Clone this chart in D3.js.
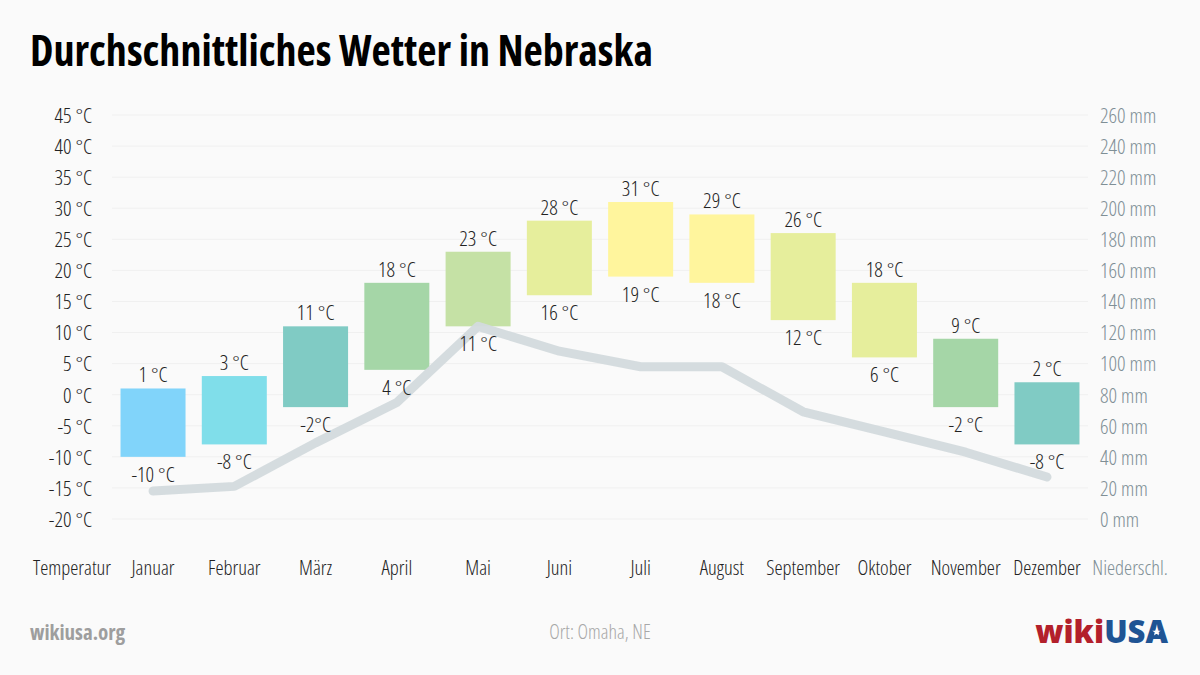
<!DOCTYPE html>
<html><head><meta charset="utf-8">
<script src="https://cdn.jsdelivr.net/npm/d3@7"></script>
<style>
body{margin:0;background:#fafafa}
text{font-family:'Open Sans';font-stretch:75%}
</style></head>
<body><svg id="c" width="1200" height="675"></svg>
<script>
const months=['Januar','Februar','März','April','Mai','Juni','Juli','August','September','Oktober','November','Dezember'];
const tempMax=[1,3,11,18,23,28,31,29,26,18,9,2];
const tempMin=[-10,-8,-2,4,11,16,19,18,12,6,-2,-8];
const maxLabels=['1 °C','3 °C','11 °C','18 °C','23 °C','28 °C','31 °C','29 °C','26 °C','18 °C','9 °C','2 °C'];
const minLabels=['-10 °C','-8 °C','-2°C','4 °C','11 °C','16 °C','19 °C','18 °C','12 °C','6 °C','-2 °C','-8 °C'];
const precip=[18,21,49,75,124,108,98,98,69,56,43,27];
const barColors=['#81d4fa','#80deea','#80cbc4','#a5d6a7','#c5e1a5','#e6ee9c','#fff59d','#fff59d','#e6ee9c','#e6ee9c','#a5d6a7','#80cbc4'];
const tempTicks=[-20,-15,-10,-5,0,5,10,15,20,25,30,35,40,45];
const precipTicks=[0,20,40,60,80,100,120,140,160,180,200,220,240,260];

const svg=d3.select('#c');
const x=d3.scaleBand().domain(months).range([112.4,1087.6]).paddingInner(0.2).paddingOuter(0.1);
const yT=d3.scaleLinear().domain([-20,45]).range([519,115]);
const yP=d3.scaleLinear().domain([0,260]).range([519,115]);
const FS='21px';

// title
svg.append('text').attr('x',30).attr('y',66).style('font-size','42px').style('font-weight',700).attr('fill','#000').text('Durchschnittliches Wetter in Nebraska');

// grid
svg.append('g').selectAll('line').data(tempTicks).join('line')
 .attr('x1',112).attr('x2',1088).attr('y1',d=>yT(d)).attr('y2',d=>yT(d))
 .attr('stroke','#f0f0f0').attr('stroke-width',1);

// left axis
const la=svg.append('g').attr('transform','translate(92,0)')
 .call(d3.axisLeft(yT).tickValues(tempTicks).tickSize(0).tickPadding(0).tickFormat(d=>d+' °C'));
la.select('.domain').remove();
la.selectAll('text').style('font-size',FS).style('font-weight',300).attr('fill','#222').attr('dy','0.35em');

// right axis
const ra=svg.append('g').attr('transform','translate(1100,0)')
 .call(d3.axisRight(yP).tickValues(precipTicks).tickSize(0).tickPadding(0).tickFormat(d=>d+' mm'));
ra.select('.domain').remove();
ra.selectAll('text').style('font-size',FS).style('font-weight',300).attr('fill','#7f8f96').attr('dy','0.35em');

// bars
svg.append('g').selectAll('rect').data(months).join('rect')
 .attr('x',d=>x(d)).attr('width',x.bandwidth())
 .attr('y',(d,i)=>yT(tempMax[i])).attr('height',(d,i)=>yT(tempMin[i])-yT(tempMax[i]))
 .attr('fill',(d,i)=>barColors[i]);

// precip line
svg.append('path').datum(precip)
 .attr('d',d3.line().x((d,i)=>x(months[i])+x.bandwidth()/2).y(d=>yP(d)))
 .attr('fill','none').attr('stroke','#d3dadd').attr('stroke-width',9)
 .attr('stroke-linecap','round').attr('stroke-linejoin','round').attr('opacity',0.95);

// value labels
const lbl=svg.append('g').style('font-size',FS).style('font-weight',300).attr('fill','#222').attr('text-anchor','middle');
lbl.selectAll('.mx').data(months).join('text').attr('class','mx')
 .attr('x',d=>x(d)+x.bandwidth()/2).attr('y',(d,i)=>yT(tempMax[i])-6).text((d,i)=>maxLabels[i]);
lbl.selectAll('.mn').data(months).join('text').attr('class','mn')
 .attr('x',d=>x(d)+x.bandwidth()/2).attr('y',(d,i)=>yT(tempMin[i])+25).text((d,i)=>minLabels[i]);

// month axis
const ba=svg.append('g').attr('transform','translate(0,568)')
 .call(d3.axisBottom(x).tickSize(0).tickPadding(0));
ba.select('.domain').remove();
ba.selectAll('text').style('font-size','20.5px').style('font-weight',300).attr('fill','#222').attr('dy','0.35em');

svg.append('text').attr('x',72).attr('y',568).attr('dy','0.35em').attr('text-anchor','middle').style('font-size','20.5px').style('font-weight',300).attr('fill','#222').text('Temperatur');
svg.append('text').attr('x',1130).attr('y',568).attr('dy','0.35em').attr('text-anchor','middle').style('font-size','20.5px').style('font-weight',300).attr('fill','#7f8f96').text('Niederschl.');

// footer
svg.append('text').attr('x',30).attr('y',640).style('font-size','21px').style('font-weight',700).attr('fill','#9e9e9e').text('wikiusa.org');
svg.append('text').attr('x',600).attr('y',639).attr('text-anchor','middle').style('font-size','20px').style('font-weight',300).attr('fill','#a8a8a8').text('Ort: Omaha, NE');
const logo=svg.append('text').attr('x',1168).attr('y',643).attr('text-anchor','end').style('font-size','31px').style('font-weight',800).style('font-stretch','100%');
logo.append('tspan').attr('fill','#b3202b').text('wiki');
logo.append('tspan').attr('fill','#1f5494').text('USA');
svg.append('path').attr('d',d3.symbol(d3.symbolStar,22)()).attr('transform','translate(1156.5,632)').attr('fill','#fff');
</script></body></html>
